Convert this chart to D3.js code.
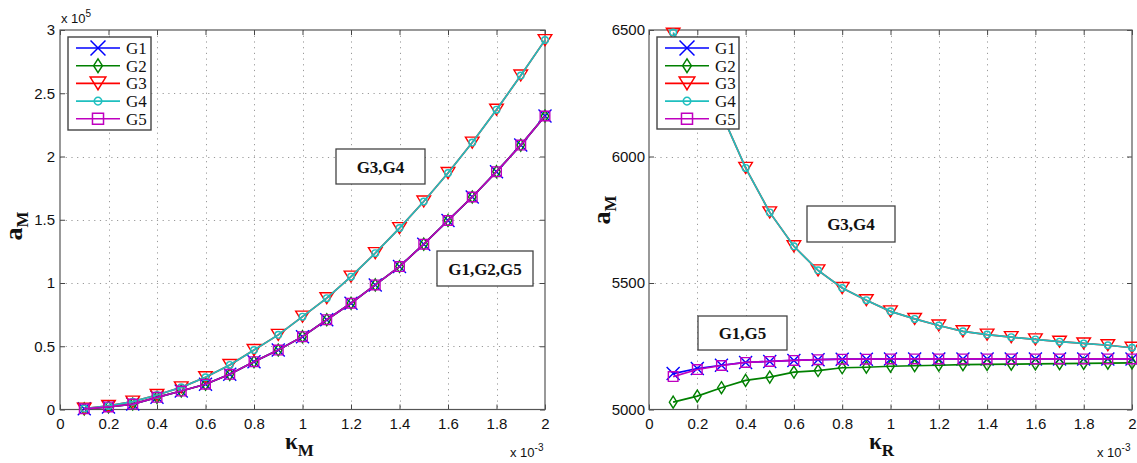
<!DOCTYPE html>
<html><head><meta charset="utf-8">
<script src="https://cdn.jsdelivr.net/npm/d3@7"></script>
<style>body{margin:0;background:#fff} svg{display:block}</style>
</head><body>
<svg id="chart" width="1137" height="463"></svg>
<script>
// ---------------- data ----------------
const seriesNames = ["G1", "G2", "G3", "G4", "G5"];
const kappa = [0.1,0.2,0.3,0.4,0.5,0.6,0.7,0.8,0.9,1.0,1.1,1.2,1.3,1.4,1.5,1.6,1.7,1.8,1.9,2.0]; // x 10^-3

// left panel: a_M vs kappa_M (x 10^5)
const leftG1 = [0.005,0.02,0.043,0.096,0.146,0.20,0.278,0.378,0.47,0.576,0.71,0.84,0.985,1.13,1.307,1.494,1.68,1.88,2.09,2.32];
const leftG2 = [0.005,0.02,0.043,0.096,0.146,0.20,0.278,0.378,0.47,0.576,0.71,0.84,0.985,1.13,1.307,1.494,1.68,1.88,2.09,2.32];
const leftG3 = [0.007,0.028,0.062,0.115,0.175,0.255,0.352,0.47,0.59,0.734,0.88,1.05,1.236,1.434,1.644,1.869,2.11,2.37,2.64,2.92];
const leftG4 = [0.007,0.028,0.062,0.115,0.175,0.255,0.352,0.47,0.59,0.734,0.88,1.05,1.236,1.434,1.644,1.869,2.11,2.37,2.64,2.92];
const leftG5 = [0.005,0.02,0.043,0.096,0.146,0.20,0.278,0.378,0.47,0.576,0.71,0.84,0.985,1.13,1.307,1.494,1.68,1.88,2.09,2.32];

// right panel: a_M vs kappa_R
const rightG1 = [5142,5162,5175,5186,5190,5194,5197,5199,5199,5200,5200,5200,5200,5200,5200,5200,5200,5200,5200,5200];
const rightG2 = [5029,5053,5086,5115,5128,5148,5154,5165,5167,5171,5173,5175,5177,5178,5179,5180,5181,5182,5183,5184];
const rightG3 = [6485,6330,6170,5955,5779,5645,5550,5480,5432,5388,5358,5332,5309,5296,5286,5277,5268,5261,5254,5244];
const rightG4 = [6490,6330,6170,5955,5779,5645,5550,5480,5432,5388,5358,5332,5309,5296,5286,5277,5268,5261,5254,5244];
const rightG5 = [5130,5158,5174,5186,5190,5194,5197,5199,5199,5200,5200,5200,5200,5200,5200,5200,5200,5200,5200,5200];

const xTicks = [0,0.2,0.4,0.6,0.8,1,1.2,1.4,1.6,1.8,2];
const xTickLabels = ["0","0.2","0.4","0.6","0.8","1","1.2","1.4","1.6","1.8","2"];
const leftYTicks = [0,0.5,1,1.5,2,2.5,3];
const leftYTickLabels = ["0","0.5","1","1.5","2","2.5","3"];
const rightYTicks = [5000,5500,6000,6500];
const rightYTickLabels = ["5000","5500","6000","6500"];

const colors = ["#0000ff", "#008000", "#ff0000", "#1fbfbf", "#bf00bf"];
const markers = ["x", "diamond", "tri", "circle", "square"];

// ---------------- drawing ----------------
const svg = d3.select("#chart");
const SANS = "'Liberation Sans', Arial, sans-serif";
const SERIF = "'Liberation Serif', 'Times New Roman', serif";

function markerPath(type, big) {
  const k = big ? 1.15 : 1;
  switch (type) {
    case "x": { const s = 6.5 * k; return `M${-s},${-s}L${s},${s}M${-s},${s}L${s},${-s}`; }
    case "diamond": { const w = 3.8 * k, h = 6 * k; return `M0,${-h}L${w},0L0,${h}L${-w},0Z`; }
    case "tri": { const w = 6.8 * k, h = 5.5 * k; return `M${-w},${-h}L${w},${-h}L0,${h}Z`; }
    case "circle": { const r = 3.3 * k; return `M${r},0A${r},${r} 0 1,1 ${-r},0A${r},${r} 0 1,1 ${r},0Z`; }
    case "square": { const s = 4.8 * k; return `M${-s},${-s}H${s}V${s}H${-s}Z`; }
  }
}

function drawPanel(p) {
  const x = d3.scaleLinear().domain([0, 2]).range([p.left, p.right]);
  const y = d3.scaleLinear().domain(p.yDomain).range([p.bottom, p.top]);
  const g = svg.append("g");

  // grid
  const grid = g.append("g").attr("stroke", "#9a9a9a").attr("stroke-width", 1).attr("stroke-dasharray", "1.2,4.5");
  grid.selectAll(".gx").data(xTicks.slice(1, -1)).join("line")
    .attr("x1", d => Math.round(x(d)) + 0.5).attr("x2", d => Math.round(x(d)) + 0.5)
    .attr("y1", p.top).attr("y2", p.bottom);
  grid.selectAll(".gy").data(p.yTicks.slice(1, -1)).join("line")
    .attr("y1", d => Math.round(y(d)) + 0.5).attr("y2", d => Math.round(y(d)) + 0.5)
    .attr("x1", p.left).attr("x2", p.right);

  // axes
  const fmtX = (d, i) => xTickLabels[i];
  const fmtY = (d, i) => p.yTickLabels[i];
  const ax = [
    g.append("g").attr("transform", `translate(0,${p.bottom})`)
      .call(d3.axisBottom(x).tickValues(xTicks).tickFormat(fmtX).tickSize(-5).tickPadding(9)),
    g.append("g").attr("transform", `translate(0,${p.top})`)
      .call(d3.axisTop(x).tickValues(xTicks).tickFormat("").tickSize(-5)),
    g.append("g").attr("transform", `translate(${p.left},0)`)
      .call(d3.axisLeft(y).tickValues(p.yTicks).tickFormat(fmtY).tickSize(-5).tickPadding(p.yPad)),
    g.append("g").attr("transform", `translate(${p.right},0)`)
      .call(d3.axisRight(y).tickValues(p.yTicks).tickFormat("").tickSize(-5))
  ];
  ax.forEach(a => {
    a.select(".domain").remove();
    a.selectAll("line").attr("stroke", "#444");
    a.selectAll("text").attr("font-family", SANS).attr("font-size", 15).attr("fill", "#111");
  });
  g.append("rect").attr("x", p.left).attr("y", p.top)
    .attr("width", p.right - p.left).attr("height", p.bottom - p.top)
    .attr("fill", "none").attr("stroke", "#555").attr("stroke-width", 1.2);

  // series
  const line = d3.line().x((d, i) => x(kappa[i])).y(d => y(d));
  p.series.forEach((vals, si) => {
    const sg = g.append("g");
    sg.append("path").attr("d", line(vals)).attr("fill", "none")
      .attr("stroke", colors[si]).attr("stroke-width", 1.7);
    sg.selectAll("path.m").data(vals).join("path").attr("class", "m")
      .attr("transform", (d, i) => `translate(${x(kappa[i])},${y(d)})`)
      .attr("d", markerPath(markers[si], false))
      .attr("fill", "none").attr("stroke", colors[si]).attr("stroke-width", 1.4);
  });

  // legend
  const lg = g.append("g");
  lg.append("rect").attr("x", p.legend.x).attr("y", p.legend.y)
    .attr("width", p.legend.w).attr("height", p.legend.h)
    .attr("fill", "#fff").attr("stroke", "#444").attr("stroke-width", 1.4);
  seriesNames.forEach((name, si) => {
    const yy = p.legend.y + 11 + si * 17.7;
    lg.append("line").attr("x1", p.legend.x + 8).attr("x2", p.legend.x + 52)
      .attr("y1", yy).attr("y2", yy).attr("stroke", colors[si]).attr("stroke-width", 1.6);
    lg.append("path").attr("transform", `translate(${p.legend.x + 30},${yy})`)
      .attr("d", markerPath(markers[si], true)).attr("fill", "none")
      .attr("stroke", colors[si]).attr("stroke-width", 1.5);
    lg.append("text").attr("x", p.legend.x + 58).attr("y", yy + 6)
      .attr("font-family", SERIF).attr("font-size", 17).attr("fill", "#111").text(name);
  });

  // annotation boxes
  p.notes.forEach(n => {
    g.append("rect").attr("x", n.x).attr("y", n.y).attr("width", n.w).attr("height", n.h)
      .attr("fill", "#fff").attr("stroke", "#444").attr("stroke-width", 1.3);
    g.append("text").attr("x", n.x + n.w / 2).attr("y", n.y + n.h / 2 + 6)
      .attr("text-anchor", "middle").attr("font-family", SERIF).attr("font-weight", "bold")
      .attr("font-size", 17).attr("fill", "#111").text(n.text);
  });

  // exponent labels
  if (p.yExp) {
    const t = g.append("text").attr("x", p.left + 1).attr("y", 23)
      .attr("font-family", SANS).attr("font-size", 13).attr("fill", "#111");
    t.append("tspan").text("x 10");
    t.append("tspan").attr("font-size", 10).attr("dy", -6).text(p.yExp);
  }
  const tx = g.append("text").attr("x", p.right - 35).attr("y", 457)
    .attr("font-family", SANS).attr("font-size", 13).attr("fill", "#111");
  tx.append("tspan").text("x 10");
  tx.append("tspan").attr("font-size", 10).attr("dy", -6).text("-3");

  // axis titles
  const xt = g.append("text").attr("x", p.xTitleX).attr("y", 449)
    .attr("font-family", SERIF).attr("font-weight", "bold").attr("fill", "#111");
  xt.append("tspan").attr("font-size", 23).text("κ");
  xt.append("tspan").attr("font-size", 17).attr("dy", 7).text(p.xSub);

  const yt = g.append("text").attr("transform", `translate(${p.yTitleX},${p.yTitleY}) rotate(-90)`)
    .attr("text-anchor", "middle")
    .attr("font-family", SERIF).attr("font-weight", "bold").attr("fill", "#111");
  yt.append("tspan").attr("font-size", 26).text("a");
  yt.append("tspan").attr("font-size", 17).attr("dy", 6).text("M");
}

drawPanel({
  left: 60, right: 545, top: 30, bottom: 409.5,
  yDomain: [0, 3], yTicks: leftYTicks, yTickLabels: leftYTickLabels, yPad: 5,
  series: [leftG1, leftG2, leftG3, leftG4, leftG5],
  legend: { x: 68, y: 37, w: 83, h: 93 },
  notes: [
    { x: 336, y: 149, w: 89, h: 35, text: "G3,G4" },
    { x: 437, y: 251, w: 96, h: 35, text: "G1,G2,G5" }
  ],
  yExp: "5", xSub: "M", xTitleX: 285, yTitleX: 22, yTitleY: 226
});

drawPanel({
  left: 649, right: 1132, top: 30, bottom: 409.5,
  yDomain: [5000, 6500], yTicks: rightYTicks, yTickLabels: rightYTickLabels, yPad: 4,
  series: [rightG1, rightG2, rightG3, rightG4, rightG5],
  legend: { x: 657, y: 37, w: 82, h: 92 },
  notes: [
    { x: 807, y: 206, w: 88, h: 36, text: "G3,G4" },
    { x: 698, y: 316, w: 89, h: 34, text: "G1,G5" }
  ],
  yExp: null, xSub: "R", xTitleX: 869, yTitleX: 610, yTitleY: 210
});
</script>
</body></html>
